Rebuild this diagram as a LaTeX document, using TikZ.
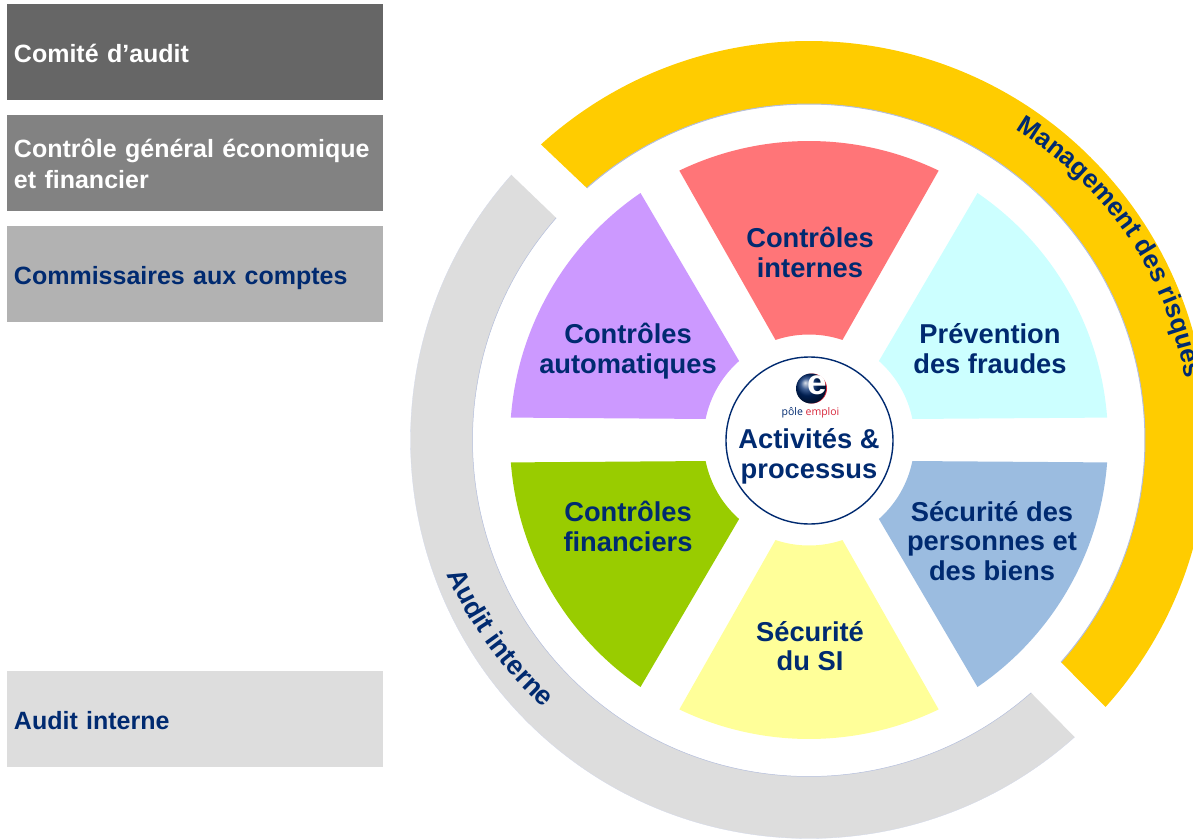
\documentclass[tikz,border=0pt]{standalone}
\usepackage{fontspec}
\setmainfont{Liberation Sans}
\newfontfamily\logofont{Open Sans}
\usetikzlibrary{positioning, decorations.text, shadings}
\definecolor{navy}{HTML}{002A70}
\definecolor{logored}{HTML}{D8283C}
\definecolor{ringedge}{HTML}{B4BEDC}
\definecolor{ringgold}{HTML}{FFCC00}
\definecolor{ringgrey}{HTML}{DDDDDD}
\tikzset{
	sidebox/.style={minimum width=376pt, minimum height=96pt, text width=362pt, inner sep=0pt, outer sep=0pt, align=left,
		font=\fontsize{25}{31}\selectfont\bfseries},
	sectorlabel/.style={align=center, text=navy, inner sep=0pt, font=\fontsize{27.3}{29.7}\selectfont\bfseries},
}
\begin{document}
\begin{tikzpicture}[x=1pt, y=1pt]
	\useasboundingbox (-809,-399) rectangle (384,440);
	% left column
	\node[sidebox, fill=black!60, text=white, text height=21pt] (comite) at (-614,388) {Comité d’audit};
	\node[sidebox, fill=black!49, text=white, text height=21pt, below=15pt of comite] (cgef) {Contrôle général économique\\et financier};
	\node[sidebox, fill=black!30, text=navy, text height=26pt, below=15pt of cgef] (cac) {Commissaires aux comptes};
	\node[sidebox, fill=ringgrey, text=navy, text height=22pt] (audit) at (-614,-279) {Audit interne};
	% outer rings
	\fill[ringgrey] (138.3:398.5) arc (138.3:311.8:398.5) -- (311.3:336.5) arc (311.3:138.7:336.5) -- cycle;
	\draw[ringedge, line width=0.5pt] (138.7:336.5) arc (138.7:311.3:336.5);
	\draw[ringedge!60, line width=0.3pt] (138.3:398.5) arc (138.3:311.8:398.5);
	\fill[ringgold] (132.2:399) arc (132.2:-42:399) -- (-41.4:336) arc (-41.4:131.4:336) -- cycle;
	\draw[ringedge, line width=1pt] (131.4:336) arc (131.4:-41.4:336);
	\path[postaction={decorate, decoration={text along path, text align=left,
		text={|\fontsize{26}{26}\selectfont\bfseries\color{navy}|Management des risques}}}]
		(206,310) arc (59:0:361);
	\path[postaction={decorate, decoration={text along path, text align=left,
		text={|\fontsize{27}{27}\selectfont\bfseries\color{navy}|Audit interne}}}]
		(-362,-134) arc (203.5:240:384);
	% six sectors
	\foreach \ang/\col in {90/FF7578, 30/CCFFFF, -30/9BBCE0, -90/FFFF99, -150/99CC00, 150/CC99FF}{
		\definecolor{sectorcol}{HTML}{\col}
		\fill[sectorcol] (\ang-25.7:299) arc (\ang-25.7:\ang+25.7:299) -- (\ang+18.5:105.5) arc (\ang+18.5:\ang-18.5:105.5) -- cycle;
	}
	\node[sectorlabel] (internes) at (1,187.5) {Contrôles\\internes};
	\node[sectorlabel] (fraudes) at (181,91.5) {Prévention\\des fraudes};
	\node[sectorlabel] (biens) at (183,-101) {Sécurité des\\personnes et\\des biens};
	\node[sectorlabel] (si) at (1,-206) {Sécurité\\du SI};
	\node[sectorlabel] (financiers) at (-181,-86.5) {Contrôles\\financiers};
	\node[sectorlabel] (automatiques) at (-181,89) {Contrôles\\automatiques};
	% centre
	\node[draw=navy, line width=1.4pt, circle, fill=white, minimum size=167pt, inner sep=0pt] (centre) at (0.5,-0.5) {};
	\node[sectorlabel] (activites) at (0,-16) {Activités \&\\processus};
	\fill[logored] (3,51.5) circle (15);
	\shade[ball color=navy] (2,51.5) circle (15);
	\node[text=white, inner sep=0pt, font=\fontsize{35}{35}\selectfont\bfseries] (logoe) at (8,55) {e};
	\node[inner sep=0pt, font=\logofont\fontsize{10.5}{10.5}\selectfont] (logotext) at (1.5,27.5) {\textcolor{navy}{pôle} \textcolor{logored}{emploi}};
\end{tikzpicture}
\end{document}
